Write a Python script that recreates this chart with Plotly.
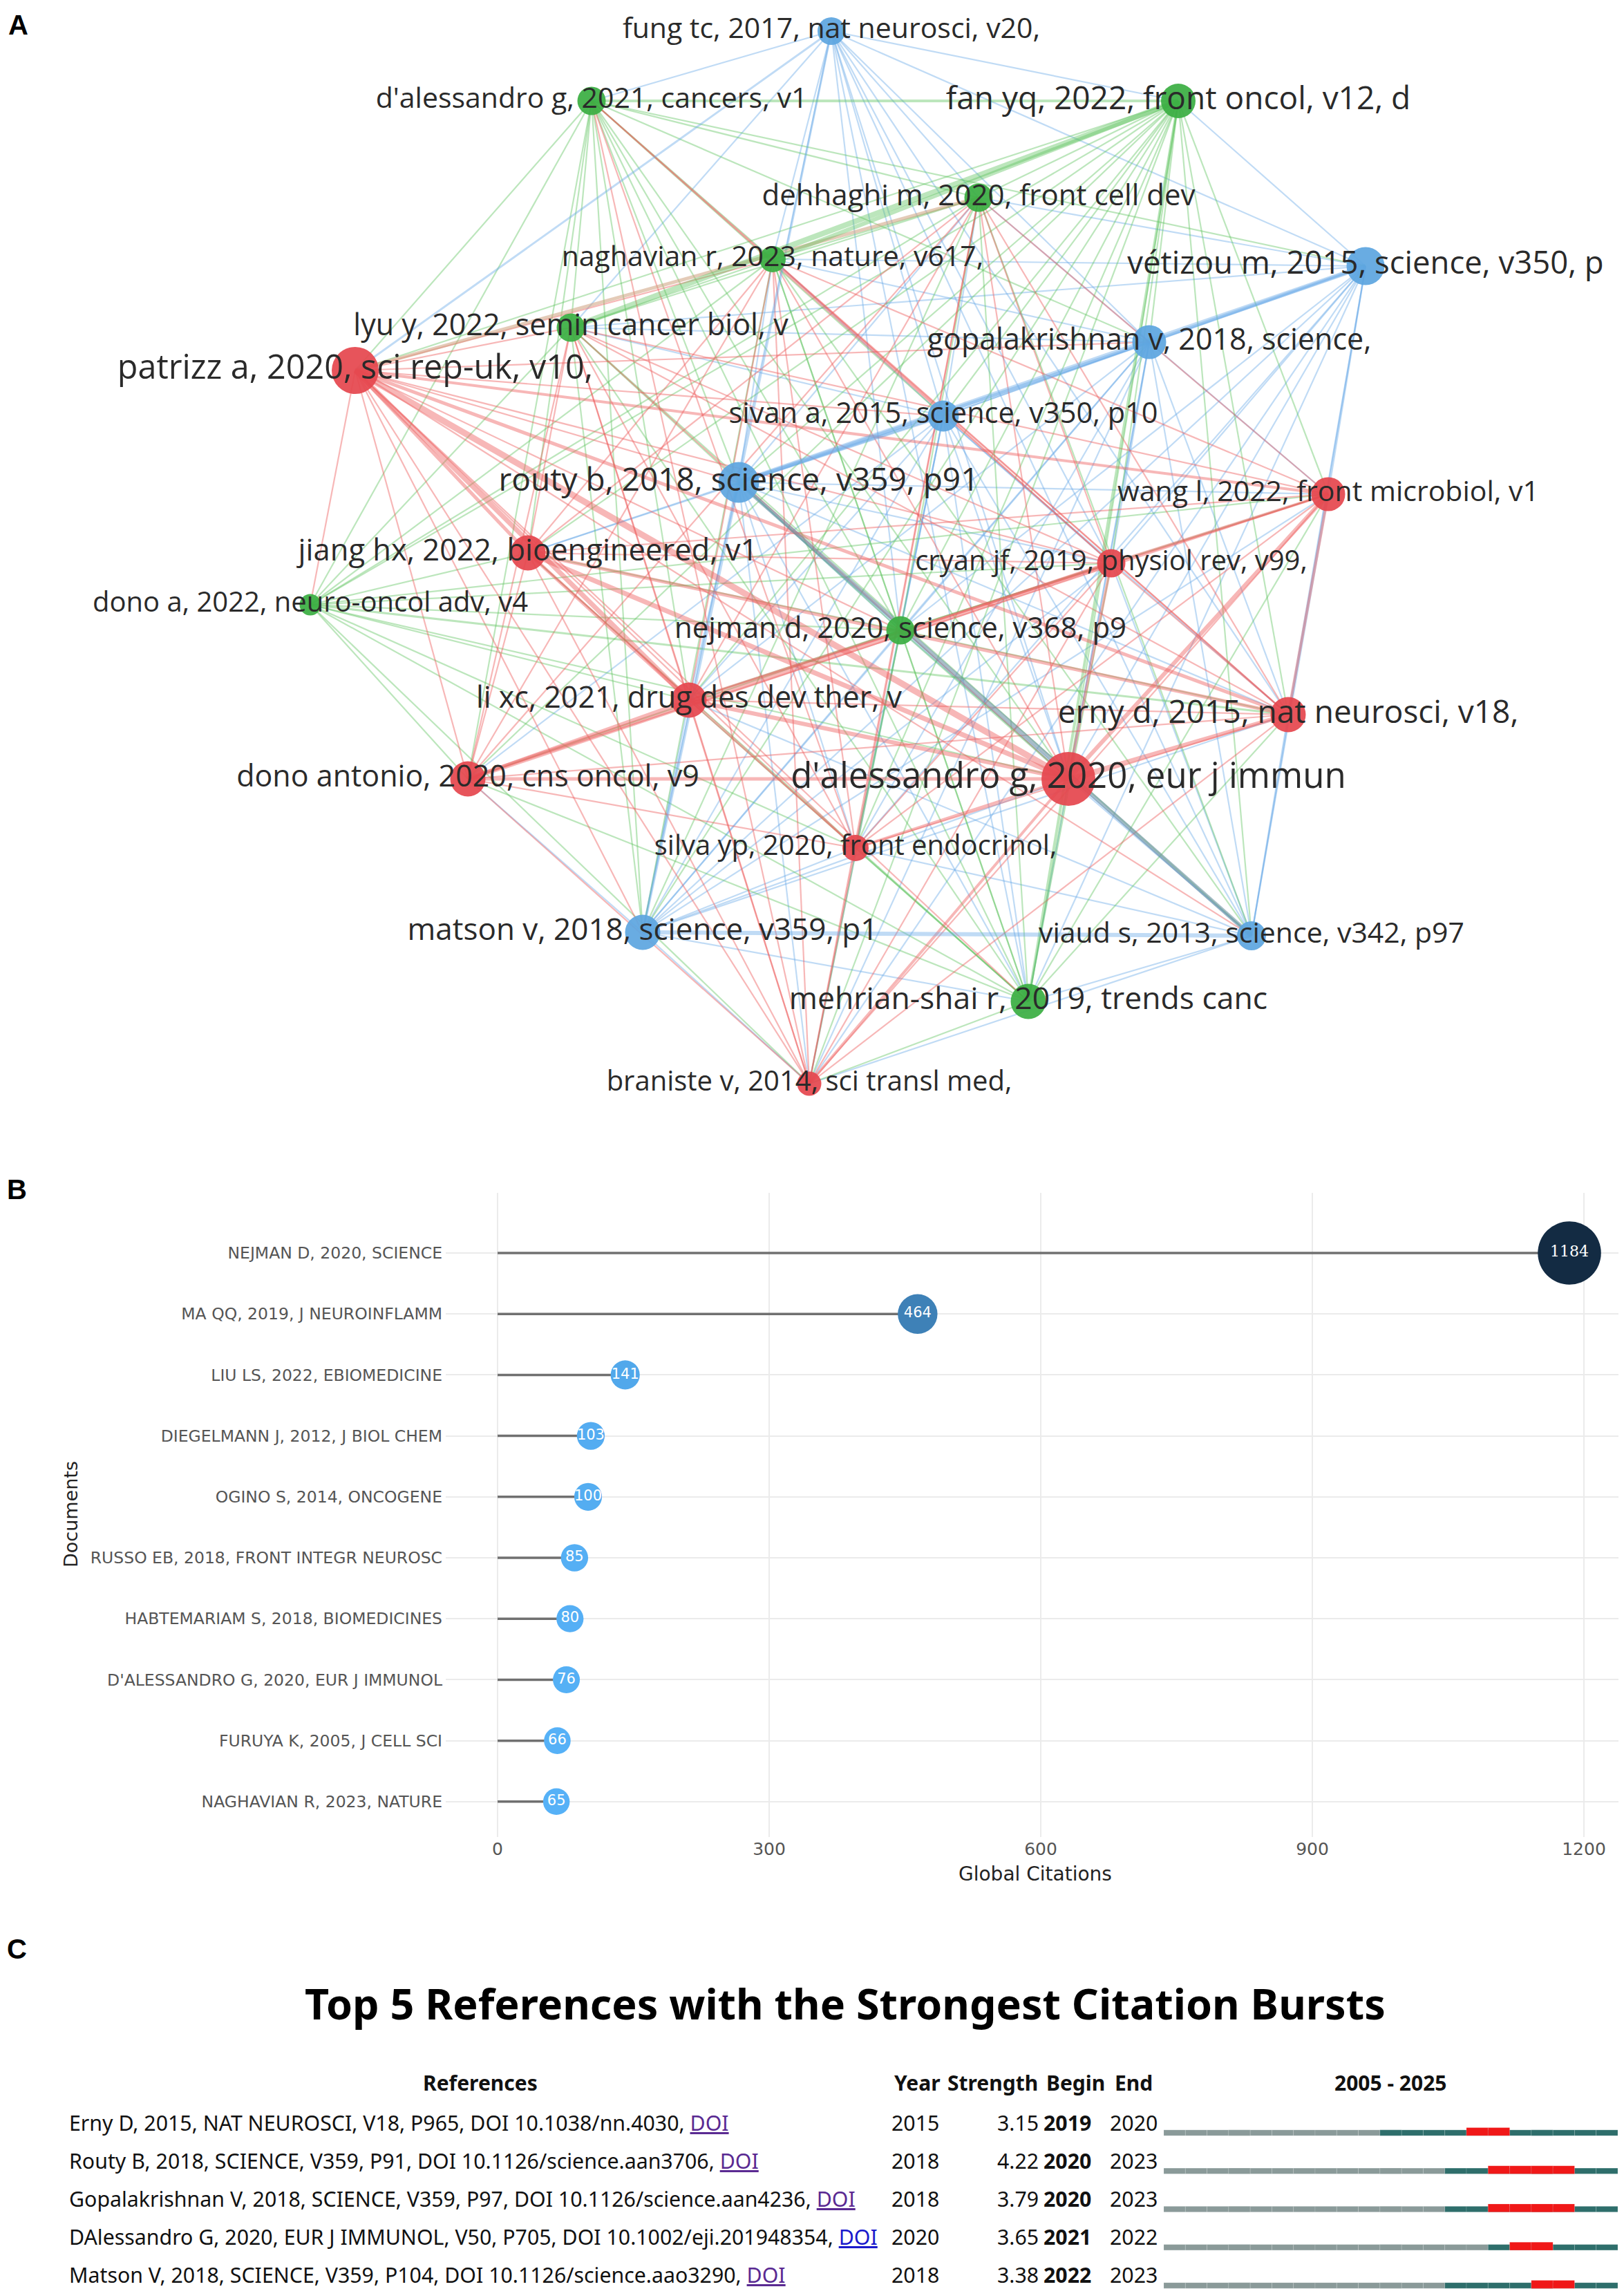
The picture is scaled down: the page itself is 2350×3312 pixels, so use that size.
import plotly.graph_objects as go

W, H = 2350, 3312

# ------------------------------------------------------------------ Panel A data
NODE_LABELS = [
    "fung tc, 2017, nat neurosci, v20,",
    "d'alessandro g, 2021, cancers, v1",
    "fan yq, 2022, front oncol, v12, d",
    "dehhaghi m, 2020, front cell dev",
    "naghavian r, 2023, nature, v617,",
    "vétizou m, 2015, science, v350, p",
    "lyu y, 2022, semin cancer biol, v",
    "patrizz a, 2020, sci rep-uk, v10,",
    "gopalakrishnan v, 2018, science,",
    "sivan a, 2015, science, v350, p10",
    "routy b, 2018, science, v359, p91",
    "wang l, 2022, front microbiol, v1",
    "jiang hx, 2022, bioengineered, v1",
    "cryan jf, 2019, physiol rev, v99,",
    "dono a, 2022, neuro-oncol adv, v4",
    "nejman d, 2020, science, v368, p9",
    "li xc, 2021, drug des dev ther, v",
    "erny d, 2015, nat neurosci, v18,",
    "dono antonio, 2020, cns oncol, v9",
    "d'alessandro g, 2020, eur j immun",
    "silva yp, 2020, front endocrinol,",
    "matson v, 2018, science, v359, p1",
    "viaud s, 2013, science, v342, p97",
    "mehrian-shai r, 2019, trends canc",
    "braniste v, 2014, sci transl med,",
]
NODE_X = [1195, 848, 1697, 1408, 1110, 1968, 818, 506, 1655, 1357, 1061, 1914, 756,
          1600, 441, 1295, 989, 1856, 669, 1538, 1230, 922, 1803, 1480, 1163]
NODE_Y = [37, 138, 138, 278, 367, 377, 466, 528, 487, 594, 690, 707, 792,
          807, 867, 904, 1005, 1026, 1119, 1119, 1219, 1341, 1346, 1441, 1560]
NODE_CLUSTER = ["b", "g", "g", "g", "g", "b", "g", "r", "b", "b", "b", "r", "r",
                "r", "g", "g", "r", "r", "r", "r", "r", "b", "b", "g", "r"]
NODE_WEIGHT = [40, 41, 50, 41, 38, 55, 41, 68, 49, 45, 59, 49, 51,
               41, 31, 41, 51, 51, 51, 78, 38, 51, 42, 51, 35]
LABEL_SIZE = [41, 41, 46, 42, 41, 45.5, 43, 48.5, 43, 41.5, 46, 41, 43.5,
              40, 40, 42, 43, 46, 43, 51, 40, 44, 41, 44.5, 40]

# links owned (coloured) by each node
LINKS = {
    0: [1, 2, 3, 4, 5, 6, 8, 9, 13, 15, 17, 19, 21, 22, 23],
    1: [3, 4, 5, 6, 7, 8, 9, 10, 12, 14, 15, 16, 18, 19, 21, 23],
    2: [3, 7, 8, 9, 10, 11, 12, 13, 14, 15, 16, 17, 18, 19, 20, 21, 22, 24],
    3: [4, 6, 14, 15, 21, 22, 23],
    4: [6, 14, 15, 21, 22, 23],
    5: [2, 3, 4, 6, 9, 11, 13, 15, 17, 19, 20, 21, 22, 23, 24],
    6: [14, 15, 21, 22, 23],
    7: [4, 6, 8, 9, 10, 13, 14, 15, 18, 20, 21, 22, 23, 24],
    8: [3, 4, 6, 9, 11, 13, 15, 16, 17, 19, 20, 21, 22, 23, 24],
    9: [3, 4, 6, 12, 13, 15, 16, 17, 18, 19, 20, 21, 22, 23, 24],
    10: [3, 4, 11, 12, 13, 15, 16, 17, 19, 20, 23, 24],
    11: [3, 4, 6, 12, 16, 18, 20, 24],
    12: [3, 4, 6, 13, 18, 20, 24],
    13: [1, 3, 4, 6, 17, 20, 24],
    14: [11, 12, 13, 15, 16, 18, 19, 20, 23, 24],
    15: [11, 12, 13, 16, 17, 18, 20, 23, 24],
    16: [3, 4, 6, 17, 20, 24],
    17: [1, 3, 4, 6, 18, 20, 24],
    18: [3, 4, 6, 20, 24],
    19: [3, 4, 6, 20, 24],
    20: [1, 3, 4, 6, 24],
    21: [11, 13, 15, 16, 17, 18, 19, 20, 23, 24],
    22: [11, 13, 15, 16, 17, 19, 20, 23, 24],
    23: [11, 12, 13, 16, 17, 18, 19, 20, 24],
    24: [1, 3, 4, 6],
}
# strong links: (a, b, colour key, strength)
STRONG_LINKS = [
    (7, 19, "r", 9), (7, 16, "r", 7), (7, 12, "r", 5), (12, 19, "r", 7),
    (17, 19, "r", 6), (11, 19, "r", 6), (18, 13, "r", 7), (16, 19, "r", 6),
    (18, 19, "r", 5), (18, 16, "r", 5), (16, 13, "r", 4), (12, 17, "r", 5),
    (20, 19, "r", 4), (24, 19, "r", 4), (11, 17, "r", 4), (12, 16, "r", 5),
    (7, 11, "r", 4), (7, 17, "r", 5), (13, 11, "r", 4), (19, 13, "r", 4),
    (10, 5, "b", 7), (10, 8, "b", 5), (9, 10, "b", 5), (8, 5, "b", 5),
    (10, 22, "x", 6), (21, 22, "b", 6), (0, 10, "b", 3), (21, 10, "b", 4),
    (2, 6, "g", 8), (2, 4, "g", 6), (1, 2, "g", 4), (2, 23, "g", 4),
    (7, 3, "t", 5), (15, 19, "g", 3), (0, 7, "b", 3), (14, 17, "g", 3),
]

NODE_COLORS = {"r": "#e5474f", "g": "#3bae43", "b": "#5ea6e0"}
LINK_COLORS = {"r": "rgba(238,95,95,0.45)", "g": "rgba(95,195,95,0.42)",
               "b": "rgba(105,170,230,0.42)", "x": "rgba(110,145,165,0.6)",
               "t": "rgba(205,160,125,0.55)"}

# ------------------------------------------------------------------ Panel B data
DOCS = ["NEJMAN D, 2020, SCIENCE", "MA QQ, 2019, J NEUROINFLAMM",
        "LIU LS, 2022, EBIOMEDICINE", "DIEGELMANN J, 2012, J BIOL CHEM",
        "OGINO S, 2014, ONCOGENE", "RUSSO EB, 2018, FRONT INTEGR NEUROSC",
        "HABTEMARIAM S, 2018, BIOMEDICINES", "D'ALESSANDRO G, 2020, EUR J IMMUNOL",
        "FURUYA K, 2005, J CELL SCI", "NAGHAVIAN R, 2023, NATURE"]
CITES = [1184, 464, 141, 103, 100, 85, 80, 76, 66, 65]
X_TICKS = [0, 300, 600, 900, 1200]

# ------------------------------------------------------------------ Panel C data
REFS = ["Erny D, 2015, NAT NEUROSCI, V18, P965, DOI 10.1038/nn.4030, ",
        "Routy B, 2018, SCIENCE, V359, P91, DOI 10.1126/science.aan3706, ",
        "Gopalakrishnan V, 2018, SCIENCE, V359, P97, DOI 10.1126/science.aan4236, ",
        "DAlessandro G, 2020, EUR J IMMUNOL, V50, P705, DOI 10.1002/eji.201948354, ",
        "Matson V, 2018, SCIENCE, V359, P104, DOI 10.1126/science.aao3290, "]
LINK_STATE = ["visited", "visited", "visited", "new", "visited"]
REF_YEAR = [2015, 2018, 2018, 2020, 2018]
STRENGTH = [3.15, 4.22, 3.79, 3.65, 3.38]
BEGIN = [2019, 2020, 2020, 2021, 2022]
END = [2020, 2023, 2023, 2022, 2023]
SPAN = (2005, 2025)


def px(x):
    return x / W


def py(y):
    return 1 - y / H


fig = go.Figure()

# ------------------------------------------------------------------ Panel A
groups = {}
seen = set()
for a, b, ck, w in STRONG_LINKS:
    seen.add(frozenset((a, b)))
for a, nbrs in LINKS.items():
    for b in nbrs:
        key = frozenset((a, b))
        if key in seen:
            continue
        seen.add(key)
        g = groups.setdefault((NODE_CLUSTER[a], 2.2), ([], []))
        g[0].extend([NODE_X[a], NODE_X[b], None])
        g[1].extend([NODE_Y[a], NODE_Y[b], None])
for a, b, ck, w in STRONG_LINKS:
    g = groups.setdefault((ck, w), ([], []))
    g[0].extend([NODE_X[a], NODE_X[b], None])
    g[1].extend([NODE_Y[a], NODE_Y[b], None])

for (ck, w), (xs, ys) in sorted(groups.items(), key=lambda kv: kv[0][1]):
    fig.add_trace(go.Scatter(x=xs, y=ys, mode="lines", xaxis="x", yaxis="y",
                             line=dict(color=LINK_COLORS[ck], width=w),
                             hoverinfo="skip", showlegend=False))

fig.add_trace(go.Scatter(
    x=NODE_X, y=NODE_Y, mode="markers+text", xaxis="x", yaxis="y",
    text=NODE_LABELS, textposition="middle center",
    textfont=dict(family="Open Sans", size=LABEL_SIZE, color="#2a2a2a"),
    marker=dict(size=NODE_WEIGHT, color=[NODE_COLORS[c] for c in NODE_CLUSTER],
                opacity=0.93, line=dict(width=0)),
    cliponaxis=False, hoverinfo="skip", showlegend=False))

# ------------------------------------------------------------------ Panel B
rows = list(range(len(DOCS)))
sx, sy = [], []
for i, v in zip(rows, CITES):
    sx.extend([0, v, None])
    sy.extend([i, i, None])
fig.add_trace(go.Scatter(x=sx, y=sy, mode="lines", xaxis="x2", yaxis="y2",
                         line=dict(color="#707070", width=3.5),
                         hoverinfo="skip", showlegend=False))
cmin, cmax = min(CITES), max(CITES)
sizes = [38.5 + 53.0 * (v - cmin) / (cmax - cmin) for v in CITES]
fams = ["DejaVu Serif" if v == cmax else "DejaVu Sans" for v in CITES]
fig.add_trace(go.Scatter(
    x=CITES, y=rows, mode="markers+text", xaxis="x2", yaxis="y2",
    text=[str(v) for v in CITES], textposition="middle center",
    textfont=dict(color="white", size=[22 if v == cmax else 21 for v in CITES], family=fams),
    marker=dict(size=sizes, color=CITES, cmin=cmin, cmax=cmax, opacity=1,
                colorscale=[[0, "#56B1F7"], [1, "#132B43"]], line=dict(width=0)),
    cliponaxis=False, hoverinfo="skip", showlegend=False))

# ------------------------------------------------------------------ Panel C
years = list(range(SPAN[0], SPAN[1] + 1))
for i in range(len(REFS)):
    cols = ["#8a9a99" if yr < REF_YEAR[i] else "#2e6e6b" for yr in years]
    fig.add_trace(go.Bar(
        orientation="h", x=[1] * len(years), base=years, y=[i] * len(years),
        width=0.15, offset=-0.075, marker=dict(color=cols, line=dict(color="rgba(255,255,255,0.15)", width=1)),
        xaxis="x3", yaxis="y3", hoverinfo="skip", showlegend=False))
    burst = [yr for yr in years if BEGIN[i] <= yr <= END[i]]
    fig.add_trace(go.Bar(
        orientation="h", x=[1] * len(burst), base=burst, y=[i] * len(burst),
        width=0.21, offset=-0.135, marker=dict(color="#f01818", line=dict(color="rgba(255,255,255,0.12)", width=1)),
        xaxis="x3", yaxis="y3", hoverinfo="skip", showlegend=False))

ann = []


def text(x, y, s, size, family="Noto Sans", color="#111", xanchor="left", bold=False, angle=0):
    if bold:
        s = "<b>" + s + "</b>"
    ann.append(dict(x=px(x), y=py(y), xref="paper", yref="paper", text=s, showarrow=False,
                    xanchor=xanchor, yanchor="middle", textangle=angle,
                    font=dict(size=size, family=family, color=color)))


# panel letters
text(2, 28, "A", 40, "Liberation Sans", "#000", bold=True)
text(0, 1713, "B", 40, "Liberation Sans", "#000", bold=True)
text(0, 2812, "C", 40, "Liberation Sans", "#000", bold=True)

# panel B titles
text(94, 2183, "Documents", 27, "DejaVu Sans", "#222", xanchor="center", angle=-90)
text(1490, 2703, "Global Citations", 28, "DejaVu Sans", "#222", xanchor="center")

# panel C table
text(1215, 2890, "Top 5 References with the Strongest Citation Bursts", 61, "Noto Sans", "#000",
     xanchor="center", bold=True)
HY = 3005
FS = 30.3
text(687, HY, "References", 30, xanchor="center", bold=True)
text(1284, HY, "Year", 30, bold=True)
text(1361, HY, "Strength", 30, bold=True)
text(1504, HY, "Begin", 30, bold=True)
text(1603, HY, "End", 30, bold=True)
text(2004, HY, f"{SPAN[0]} - {SPAN[1]}", 30, xanchor="center", bold=True)
link_col = {"visited": "#5a2a92", "new": "#1a1acc"}
for i in range(len(REFS)):
    ry = 3063 + 55.2 * i
    text(90, ry, REFS[i] + f'<span style="color:{link_col[LINK_STATE[i]]}"><u>DOI</u></span>', FS)
    text(1280, ry, str(REF_YEAR[i]), FS)
    text(1497, ry, f"{STRENGTH[i]:.2f}", FS, xanchor="right")
    text(1500, ry, str(BEGIN[i]), FS, bold=True)
    text(1596, ry, str(END[i]), FS)

fig.update_layout(
    width=W, height=H, margin=dict(l=0, r=0, t=0, b=0),
    paper_bgcolor="white", plot_bgcolor="rgba(0,0,0,0)",
    showlegend=False, barmode="overlay", annotations=ann,
    xaxis=dict(domain=[0, 1], range=[0, W], visible=False, anchor="y"),
    yaxis=dict(domain=[1 - 1600 / H, 1], range=[1600, 0], visible=False, anchor="x"),
    xaxis2=dict(domain=[px(637), px(2345)], range=[(637 - 712) / 1.31, (2345 - 712) / 1.31],
                tickvals=X_TICKS, ticktext=[str(t) for t in X_TICKS], anchor="y2",
                showgrid=True, gridcolor="#ebebeb", gridwidth=1.5, zeroline=False, showline=False,
                ticks="", ticklabelstandoff=0,
                tickfont=dict(family="DejaVu Sans", size=25, color="#555")),
    yaxis2=dict(domain=[py(2650), py(1718)], range=[9.58, -0.986], anchor="x2",
                tickvals=rows, ticktext=DOCS, showgrid=True, gridcolor="#ebebeb", gridwidth=1.5,
                zeroline=False, showline=False, ticks="", ticklabelstandoff=4,
                tickfont=dict(family="DejaVu Sans", size=23.5, color="#555")),
    xaxis3=dict(domain=[px(1676), px(2333)], range=[SPAN[0], SPAN[1] + 1], visible=False, anchor="y3"),
    yaxis3=dict(domain=[0, py(2950)], range=[(H - 3078) / 55.25, (2950 - 3078) / 55.25],
                visible=False, anchor="x3"),
)

fig.write_html("out.html", config={"displayModeBar": False})
